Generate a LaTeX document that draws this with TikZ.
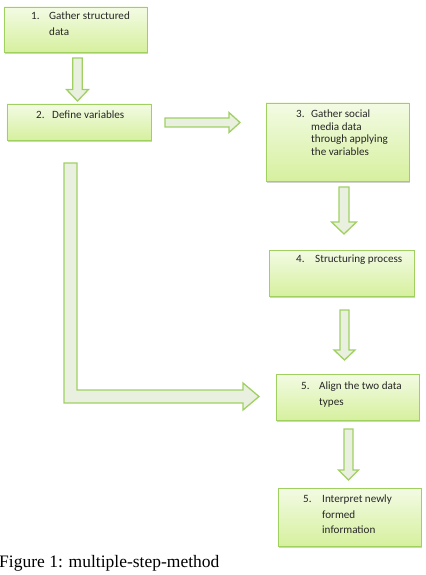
\documentclass[tikz,border=0pt]{standalone}
\usepackage{fontspec}
\setmainfont{Carlito}
\newfontfamily\capfont{Liberation Serif}
\usetikzlibrary{shadows}
\definecolor{boxtop}{HTML}{F3FBE4}
\definecolor{boxbot}{HTML}{D6F09E}
\definecolor{boxline}{HTML}{9FD060}
\definecolor{arrfill}{HTML}{E9F0DF}
\definecolor{arrline}{HTML}{A0D062}
\tikzset{
  box/.style={draw=boxline, line width=0.9bp, top color=boxtop, bottom color=boxbot,
    inner sep=0pt, drop shadow={shadow xshift=1.2bp, shadow yshift=-2bp, opacity=0.3, fill=black!60}},
  blockarrow/.style={draw=arrline, fill=arrfill, line width=1.3bp, line join=miter},
  txt/.style={inner sep=0pt, font=\fontsize{11.1bp}{13bp}\selectfont, text=black!85, anchor=mid west},
  captiontext/.style={inner sep=0pt, font=\capfont\fontsize{17.5bp}{20bp}\selectfont, anchor=base west}
}
\newcommand\vblock[6]{%
  \draw[blockarrow] ({#1-#5},#2) -- ({#1+#5},#2) -- ({#1+#5},#3) -- ({#1+#6},#3) -- (#1,#4)
    -- ({#1-#6},#3) -- ({#1-#5},#3) -- cycle;}
\newcommand\hblock[6]{%
  \draw[blockarrow] (#2,{#1-#5}) -- (#2,{#1+#5}) -- (#3,{#1+#5}) -- (#3,{#1+#6}) -- (#4,#1)
    -- (#3,{#1-#6}) -- (#3,{#1-#5}) -- cycle;}
\begin{document}
\begin{tikzpicture}[x=1bp, y=-1bp]
\useasboundingbox (0,0) rectangle (425,575);
% boxes
\node[box, minimum width=143bp, minimum height=45bp] (b1) at (75.5,29.5) {};
\node[box, minimum width=144bp, minimum height=36bp] (b2) at (79,122) {};
\node[box, minimum width=143bp, minimum height=78bp] (b3) at (337.5,142) {};
\node[box, minimum width=145bp, minimum height=46bp] (b4) at (341.5,273) {};
\node[box, minimum width=143bp, minimum height=46bp] (b5) at (347.5,397) {};
\node[box, minimum width=143bp, minimum height=58bp] (b6) at (349.5,517) {};
% texts
\node[txt] (n1) at (31,17) {1.};
\node[txt] (t1a) at (49,17) {Gather structured};
\node[txt] (t1b) at (49,33) {data};
\node[txt] (n2) at (36,116) {2.};
\node[txt] (t2) at (52,116) {Define variables};
\node[txt] (n3) at (296,115) {3.};
\node[txt] (t3a) at (311,115) {Gather social};
\node[txt] (t3b) at (311,127.7) {media data};
\node[txt] (t3c) at (311,140.3) {through applying};
\node[txt] (t3d) at (311,153) {the variables};
\node[txt] (n4) at (296,260) {4.};
\node[txt] (t4) at (315,260) {Structuring process};
\node[txt] (n5) at (301,387) {5.};
\node[txt] (t5a) at (319,387) {Align the two data};
\node[txt] (t5b) at (319,403) {types};
\node[txt] (n6) at (303,500) {5.};
\node[txt] (t6a) at (322,500) {Interpret newly};
\node[txt] (t6b) at (322,516) {formed};
\node[txt] (t6c) at (322,531) {information};
% block arrows
\vblock{77.5}{58}{89.5}{101}{4.7}{11}
\hblock{122.5}{165}{229}{240}{4.5}{10}
\vblock{344}{187}{222}{234}{5}{12.5}
\vblock{344.5}{310}{350}{360}{4.5}{10.5}
\vblock{348.5}{429}{470}{480}{4.5}{10}
\draw[blockarrow] (64,163) -- (77,163) -- (77,390) -- (243,390) -- (243,383) -- (259,396.5)
  -- (243,410) -- (243,403) -- (64,403) -- cycle;
% caption
\node[captiontext] (caption) at (-1,567) {Figure 1: multiple-step-method};
\end{tikzpicture}
\end{document}
